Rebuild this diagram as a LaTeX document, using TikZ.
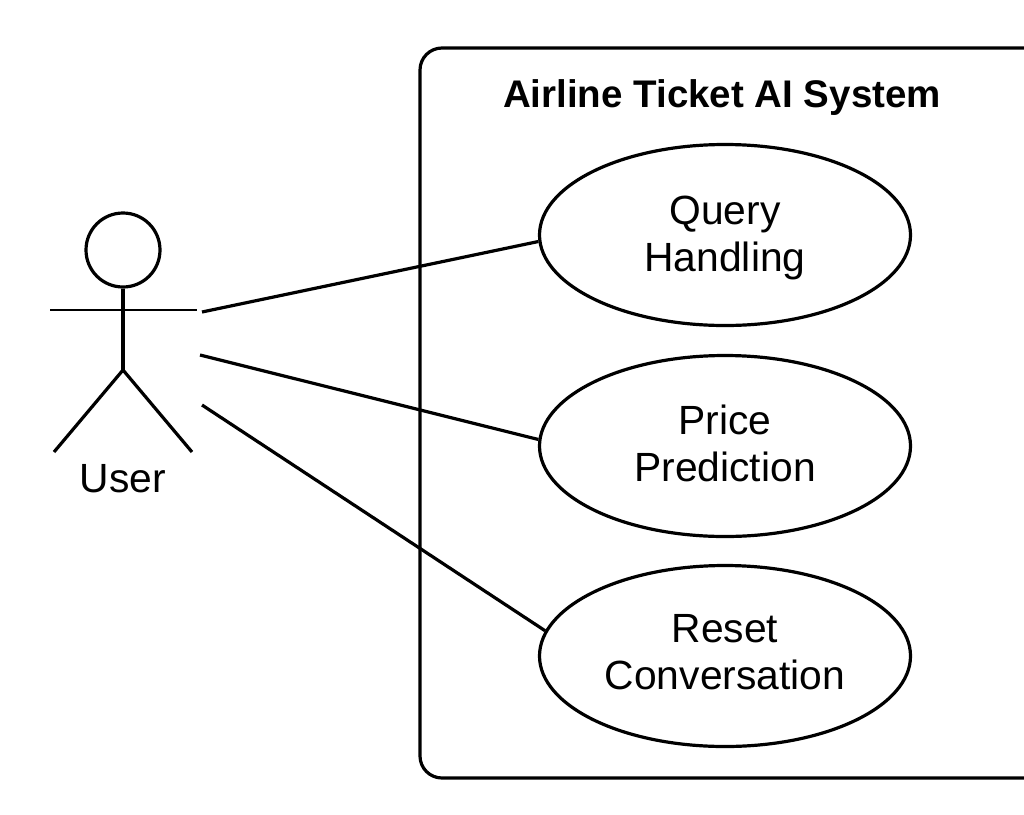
\documentclass[tikz,border=0pt]{standalone}
\usepackage{fontspec}
\setmainfont{Liberation Sans}
\usepackage{tikz}
\usetikzlibrary{shapes.geometric}
\begin{document}
\begin{tikzpicture}[x=1pt,y=-1pt,line width=3.2pt]
%
\tikzstyle{uc}=[draw,shape=ellipse,minimum width=371pt,minimum height=181pt,inner sep=0pt]
\tikzstyle{lbl}=[inner sep=0pt,align=center,font=\fontsize{40.8}{47}\selectfont]
%
\useasboundingbox (0,0) rectangle (1024,814);
%
\draw[rounded corners=22pt] (1030,48) -- (420,48) -- (420,778) -- (1030,778);
\node[inner sep=0pt,font=\fontsize{38.5}{44}\selectfont\bfseries](title) at (722,97.5){Airline Ticket AI System};
%
\node[uc](q) at (725,235){};
\node[uc](p) at (725,446){};
\node[uc](r) at (725,656){};
\node[lbl](qt) at (725,237.5){Query\\Handling};
\node[lbl](pt) at (725,443.5){Price\\Prediction};
\node[lbl](rt) at (725,652){Reset\\Conversation};
%
\node[draw,shape=circle,minimum size=74pt,inner sep=0pt](head) at (123,250){};
\coordinate(hip) at (123,370);
\coordinate(arml) at (50,310);
\coordinate(armr) at (197,310);
\coordinate(legl) at (54,452);
\coordinate(legr) at (192,452);
\draw[line width=3.8pt] (head) -- (hip);
\draw[line width=2.6pt] (arml) -- (armr);
\draw (legl) -- (hip) -- (legr);
\node[lbl](user) at (123,479){User};
%
\coordinate(u1) at (202,312);
\coordinate(u2) at (200,355);
\coordinate(u3) at (202,405);
\draw (u1) -- (q.182);
\draw (u2) -- (p.178.5);
\draw (u3) -- (r.172.7);
\end{tikzpicture}
\end{document}
